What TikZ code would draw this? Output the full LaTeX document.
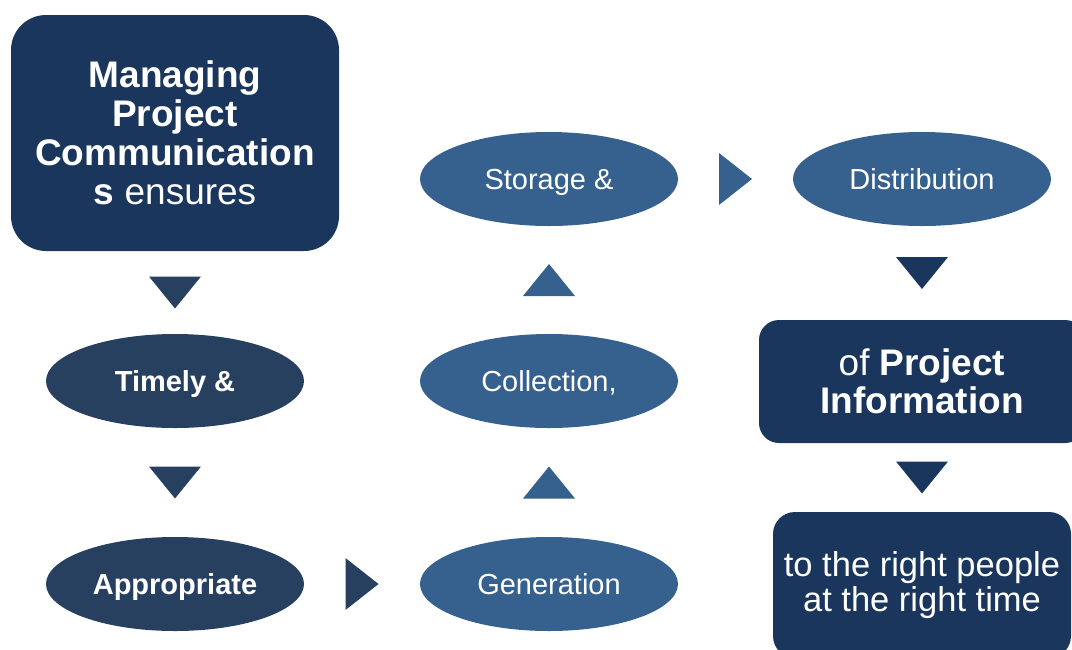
\documentclass[tikz,border=0pt]{standalone}
\usepackage{fontspec}
\setmainfont{Liberation Sans}
\usetikzlibrary{shapes.geometric,calc}
\definecolor{navy}{RGB}{27,54,93}
\definecolor{slate}{RGB}{39,64,96}
\definecolor{steel}{RGB}{54,97,143}
\tikzset{
  box/.style={fill=navy, text=white, align=center, inner sep=0pt},
  oval/.style={ellipse, minimum width=258pt, minimum height=94pt, inner sep=0pt,
    text=white, font=\fontsize{29}{33}\selectfont, text height=21pt, text depth=0pt},
  downtri/.pic={\fill[#1] (-26,-16) -- (26,-16) -- (0,16) -- cycle;},
  uptri/.pic={\fill[#1] (-26,16) -- (26,16) -- (0,-16) -- cycle;},
  righttri/.pic={\fill[#1] (-16.5,-26) -- (-16.5,26) -- (16.5,0) -- cycle;},
}
\begin{document}
\begin{tikzpicture}[x=1pt,y=-1pt]
\useasboundingbox (0,0) rectangle (1072,649);
\clip (0,0) rectangle (1072,649);
% nodes
\node[box, rounded corners=35pt, minimum width=328pt, minimum height=236pt,
      font=\fontsize{37}{39}\selectfont] (mpc) at (175,133)
  {\textbf{Managing}\\\textbf{Project}\\\textbf{Communication}\\\textbf{s} ensures};
\node[oval, fill=slate, font=\fontsize{29}{33}\selectfont\bfseries] (timely) at (175,381) {Timely \&};
\node[oval, fill=slate, font=\fontsize{29}{33}\selectfont\bfseries] (approp) at (175,584) {Appropriate};
\node[oval, fill=steel] (gen) at (549,584) {Generation};
\node[oval, fill=steel] (coll) at (549,381) {Collection,};
\node[oval, fill=steel] (stor) at (549,179) {Storage \&};
\node[oval, fill=steel] (dist) at (922,179) {Distribution};
\node[box, rounded corners=20pt, minimum width=326pt, minimum height=123pt,
      font=\fontsize{37}{38}\selectfont] (info) at (922,381.5)
  {of \textbf{Project}\\\textbf{Information}};
\node[box, rounded corners=22pt, minimum width=298pt, minimum height=146pt,
      font=\fontsize{34.5}{35}\selectfont] (people) at (922,585)
  {to the right people\\at the right time};
% connectors
\path ($(mpc.south)!0.5!(timely.north)$) pic {downtri=slate};
\path ($(timely.south)!0.5!(approp.north)$) pic {downtri=slate};
\path ($(approp.east)!0.5!(gen.west)$) pic {righttri=slate};
\path ($(gen.north)!0.5!(coll.south)$) pic {uptri=steel};
\path ($(coll.north)!0.5!(stor.south)$) pic {uptri=steel};
\path ($(stor.east)!0.5!(dist.west)$) pic {righttri=steel};
\path ($(dist.south)!0.5!(info.north)$) pic {downtri=navy};
\path ($(info.south)!0.5!(people.north)$) pic {downtri=navy};
\end{tikzpicture}
\end{document}
